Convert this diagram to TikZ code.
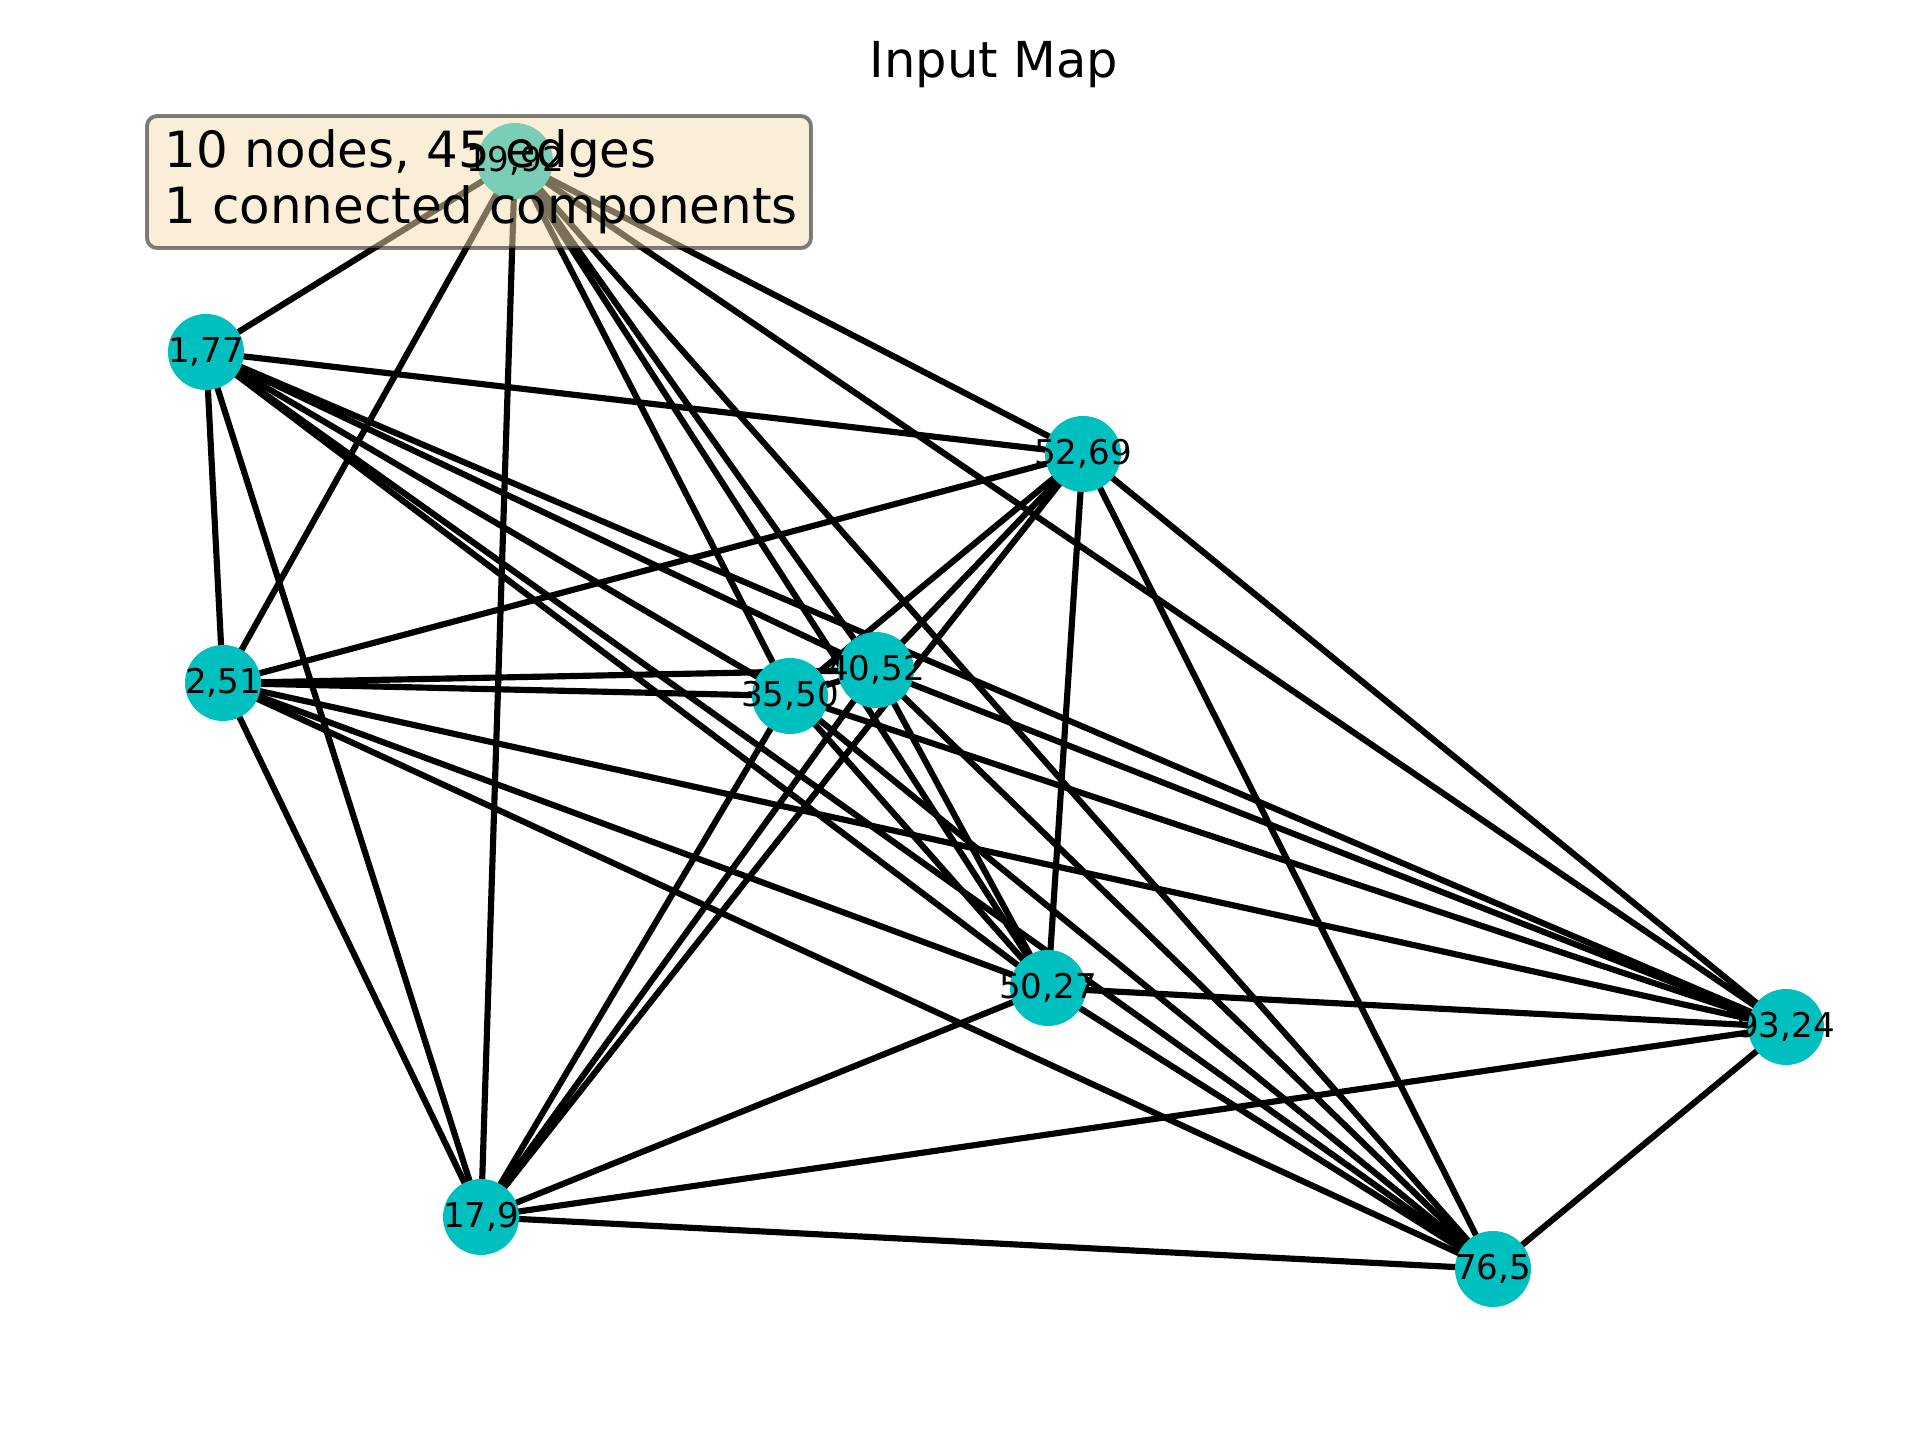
\documentclass[tikz,border=0pt]{standalone}
\usepackage{fontspec}
\setmainfont{DejaVu Sans}
\usetikzlibrary{backgrounds}
\definecolor{nodecyan}{RGB}{0,191,191}
\definecolor{wheat}{RGB}{245,222,179}
\pgfdeclarelayer{boxlayer}
\pgfdeclarelayer{labellayer}
\pgfsetlayers{background,main,boxlayer,labellayer}
\begin{document}
\begin{tikzpicture}[x=0.1mm,y=-0.1mm,
  vertex/.style={circle,fill=nodecyan,minimum size=7.6mm,inner sep=0pt},
  vlabel/.style={font=\fontsize{9.7}{11}\selectfont,inner sep=0pt,text=black},
  link/.style={line width=1.75pt,draw=black},
  infobox/.style={draw=black,draw opacity=0.5,fill=wheat,fill opacity=0.5,
    line width=1.1pt,rounded corners=1mm},
  infotext/.style={font=\fontsize{14.2}{17}\selectfont,inner sep=0pt,anchor=base west},
  titletext/.style={font=\fontsize{14.1}{17}\selectfont,inner sep=0pt}]
\useasboundingbox (0,0) rectangle (1920,1440);

% vertices: index / text / position in px
\foreach \i/\t/\x/\y in {1/{19,92}/515/161, 2/{1,77}/206/352, 3/{52,69}/1083/454,
    4/{2,51}/223/683, 5/{35,50}/790/696, 6/{40,52}/876/670, 7/{50,27}/1048/988,
    8/{93,24}/1786/1027, 9/{17,9}/481/1217, 10/{76,5}/1493/1269} {
  \node[vertex] (v\i) at (\x,\y) {};
  \begin{pgfonlayer}{labellayer}
    \node[vlabel] (l\i) at (v\i.center) {\t};
  \end{pgfonlayer}
}

% complete graph: every pair of vertices is joined
\begin{pgfonlayer}{background}
\foreach \i in {1,...,9} {
  \pgfmathtruncatemacro\k{\i+1}
  \foreach \j in {\k,...,10} {
    \draw[link] (v\i.center) -- (v\j.center);
  }
}
\end{pgfonlayer}

% summary box
\begin{pgfonlayer}{boxlayer}
\path[infobox] (147,116) rectangle (811,248);
\end{pgfonlayer}
\begin{pgfonlayer}{labellayer}
\node[infotext] (info1) at (164,168) {10 nodes, 45 edges};
\node[infotext] (info2) at (164,224) {1 connected components};
\end{pgfonlayer}

\node[titletext] (title) at (994,65) {Input Map};
\end{tikzpicture}
\end{document}
